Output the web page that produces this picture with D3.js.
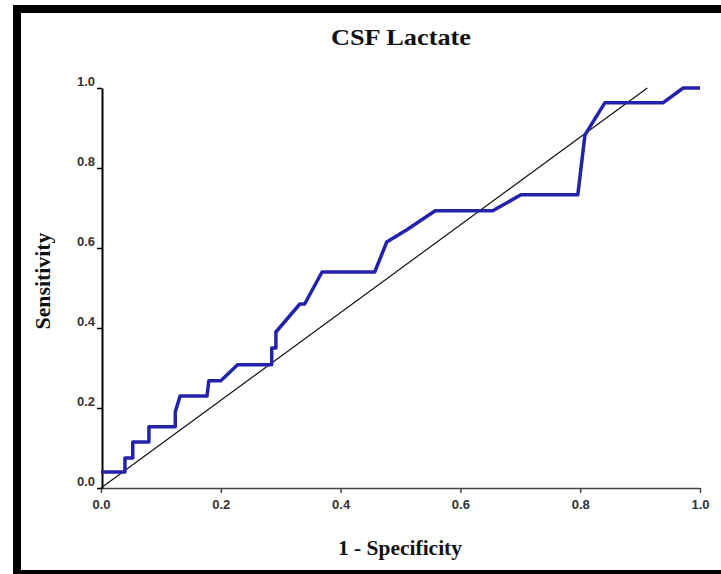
<!DOCTYPE html>
<html>
<head>
<meta charset="utf-8">
<script src="https://cdn.jsdelivr.net/npm/d3@7"></script>
<style>
  body { margin: 0; background: #fff; }
  svg { display: block; }
</style>
</head>
<body>
<div id="chart"></div>
<script>
// ROC curve
const fpr = [0, 0.04, 0.04, 0.053, 0.053, 0.08, 0.08, 0.124, 0.124, 0.132, 0.177, 0.18, 0.2, 0.228,
  0.285, 0.285, 0.292, 0.292, 0.332, 0.34, 0.369, 0.457, 0.477, 0.51, 0.558, 0.654, 0.701,
  0.796, 0.808, 0.841, 0.938, 0.972, 1.0];
const tpr = [0.04, 0.04, 0.075, 0.075, 0.115, 0.115, 0.153, 0.153, 0.19, 0.23, 0.23, 0.268, 0.268, 0.308,
  0.308, 0.35, 0.35, 0.39, 0.46, 0.46, 0.54, 0.54, 0.615, 0.645, 0.693, 0.693, 0.733,
  0.733, 0.883, 0.963, 0.963, 1.0, 1.0];
// reference line as drawn (it stops short of x = 1)
const refX = [0, 0.912];
const refY = [0, 1.0];
const tickValues = [0, 0.2, 0.4, 0.6, 0.8, 1.0];

const width = 721, height = 574;

const svg = d3.select('#chart')
  .append('svg')
  .attr('width', width)
  .attr('height', height);

// frame
svg.append('rect')
  .attr('x', 17)
  .attr('y', 9)
  .attr('width', 730)
  .attr('height', 565)
  .attr('fill', '#fff')
  .attr('stroke', '#000')
  .attr('stroke-width', 8);

const x = d3.scaleLinear().domain([0, 1]).range([101, 700]);
const y = d3.scaleLinear().domain([0, 1]).range([488, 88]);

// x axis
const xAxis = svg.append('g')
  .attr('transform', `translate(0,${y(0)})`)
  .call(d3.axisBottom(x).tickValues(tickValues).tickFormat(d3.format('.1f'))
    .tickSize(5).tickSizeOuter(0).tickPadding(7));
xAxis.select('.domain').attr('stroke', '#444').attr('stroke-width', 1.5);
xAxis.selectAll('.tick line').attr('stroke', '#444').attr('stroke-width', 1.5);
xAxis.selectAll('.tick text')
  .attr('fill', '#333')
  .attr('font-family', 'Arial, "Liberation Sans", sans-serif')
  .attr('font-weight', 'bold')
  .attr('font-size', '13px');

// y axis
const yAxis = svg.append('g')
  .attr('transform', `translate(${x(0) + 1},0)`)
  .call(d3.axisLeft(y).tickValues(tickValues).tickFormat(d3.format('.1f'))
    .tickSize(5).tickSizeOuter(0).tickPadding(2));
yAxis.select('.domain').attr('stroke', '#000').attr('stroke-width', 2);
yAxis.selectAll('.tick line').attr('stroke', '#000').attr('stroke-width', 1.5);
yAxis.selectAll('.tick text')
  .attr('dy', '-0.2em')
  .attr('fill', '#333')
  .attr('font-family', 'Arial, "Liberation Sans", sans-serif')
  .attr('font-weight', 'bold')
  .attr('font-size', '13px');

// diagonal reference
svg.append('line')
  .attr('x1', x(refX[0]))
  .attr('y1', y(refY[0]))
  .attr('x2', x(refX[1]))
  .attr('y2', y(refY[1]))
  .attr('stroke', '#111')
  .attr('stroke-width', 1.2);

// ROC curve
const pts = fpr.map((v, i) => [v, tpr[i]]);
svg.append('path')
  .datum(pts)
  .attr('fill', 'none')
  .attr('stroke', '#2222aa')
  .attr('stroke-width', 3.5)
  .attr('stroke-linejoin', 'round')
  .attr('d', d3.line().x(d => x(d[0])).y(d => y(d[1])));

// titles (slightly stretched like the source)
svg.append('text')
  .attr('x', 401)
  .attr('y', 45)
  .attr('text-anchor', 'middle')
  .attr('font-family', '"Liberation Serif", "Times New Roman", serif')
  .attr('font-weight', 'bold')
  .attr('font-size', '24px')
  .attr('fill', '#111')
  .attr('textLength', 140)
  .attr('lengthAdjust', 'spacingAndGlyphs')
  .text('CSF Lactate');

svg.append('text')
  .attr('x', 400)
  .attr('y', 555)
  .attr('text-anchor', 'middle')
  .attr('font-family', '"Liberation Serif", "Times New Roman", serif')
  .attr('font-weight', 'bold')
  .attr('font-size', '20px')
  .attr('fill', '#111')
  .attr('textLength', 124)
  .attr('lengthAdjust', 'spacingAndGlyphs')
  .text('1 - Specificity');

svg.append('text')
  .attr('transform', 'translate(50,281) rotate(-90)')
  .attr('text-anchor', 'middle')
  .attr('font-family', '"Liberation Serif", "Times New Roman", serif')
  .attr('font-weight', 'bold')
  .attr('font-size', '20px')
  .attr('fill', '#111')
  .attr('textLength', 97)
  .attr('lengthAdjust', 'spacingAndGlyphs')
  .text('Sensitivity');
</script>
</body>
</html>
